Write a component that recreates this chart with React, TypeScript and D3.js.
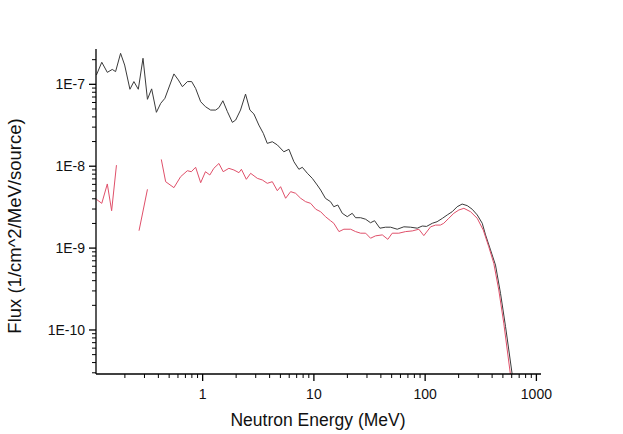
import React from "react";
import * as d3 from "d3";

// Neutron energy (MeV) and flux values for the black series
const blackEnergy = [0.111, 0.124, 0.139, 0.154, 0.165, 0.183, 0.199, 0.222, 0.241, 0.264, 0.291, 0.319, 0.348, 0.384, 0.42, 0.458, 0.552, 0.605, 0.658, 0.729, 0.797, 0.865, 0.96, 1.06, 1.18, 1.31, 1.4, 1.52, 1.67, 1.85, 1.98, 2.19, 2.43, 2.66, 2.89, 3.2, 3.51, 3.81, 4.23, 4.69, 5.37, 5.96, 6.61, 7.33, 7.87, 8.73, 9.68, 10.7, 11.5, 12.7, 14.1, 15.1, 16.4, 18.0, 19.95, 22.1, 23.7, 26.3, 29.2, 32.3, 35.1, 39.2, 44.1, 48.9, 56.1, 64.4, 73.9, 84.9, 94.2, 103, 116, 128, 143, 158, 175, 194, 215, 239, 265, 294, 326, 349, 387, 429, 476, 528, 565, 607, 630];
const blackFlux = [1.3e-7, 1.86e-7, 1.4e-7, 1.52e-7, 1.43e-7, 2.39e-7, 1.72e-7, 8.7e-8, 1.08e-7, 8.7e-8, 2.08e-7, 6.56e-8, 8.8e-8, 4.55e-8, 5.86e-8, 6.75e-8, 1.34e-7, 1.13e-7, 9.35e-8, 1.08e-7, 1.08e-7, 8.9e-8, 6.13e-8, 5.33e-8, 4.85e-8, 4.85e-8, 5.18e-8, 6.3e-8, 4.63e-8, 3.43e-8, 3.66e-8, 4.85e-8, 7.6e-8, 4.85e-8, 4.34e-8, 3.18e-8, 2.52e-8, 1.9e-8, 1.99e-8, 1.82e-8, 1.5e-8, 1.61e-8, 1.135e-8, 9.17e-9, 9.7e-9, 8.2e-9, 7.1e-9, 5.9e-9, 5.12e-9, 4.05e-9, 3.69e-9, 3.2e-9, 3.36e-9, 2.66e-9, 2.42e-9, 2.66e-9, 2.35e-9, 2.35e-9, 2.25e-9, 2.04e-9, 2.16e-9, 1.75e-9, 1.8e-9, 1.8e-9, 1.7e-9, 1.82e-9, 1.8e-9, 1.75e-9, 1.86e-9, 1.84e-9, 2.01e-9, 2.1e-9, 2.31e-9, 2.54e-9, 2.78e-9, 3.2e-9, 3.45e-9, 3.3e-9, 2.98e-9, 2.54e-9, 2.01e-9, 1.45e-9, 9.5e-10, 6.2e-10, 2.8e-10, 1.1e-10, 5.7e-11, 2.82e-11, 1.8e-11];

// Red series, three separate segments (gaps in the data)
const redEnergy1 = [0.111, 0.124, 0.139, 0.152, 0.168];
const redFlux1 = [3.94e-9, 3.52e-9, 6.07e-9, 2.86e-9, 1.03e-8];
const redEnergy2 = [0.268, 0.319];
const redFlux2 = [1.63e-9, 5.22e-9];
const redEnergy3 = [0.425, 0.465, 0.552, 0.634, 0.729, 0.791, 0.865, 0.96, 1.06, 1.16, 1.26, 1.4, 1.53, 1.72, 1.91, 2.12, 2.23, 2.47, 2.7, 3.1, 3.44, 3.81, 4.23, 4.69, 5.02, 5.57, 6.18, 6.85, 7.6, 8.42, 9.34, 10.4, 11.5, 12.7, 14.1, 15.1, 16.8, 18.6, 21.4, 23.7, 26.3, 29.2, 32.3, 35.8, 41.2, 46.2, 50.6, 58.0, 66.7, 76.6, 87.8, 97.3, 112, 124, 137, 147, 163, 181, 201, 223, 256, 294, 333, 373, 414, 459, 509, 547, 585, 605];
const redFlux3 = [1.21e-8, 6.47e-9, 5.47e-9, 7.45e-9, 8.81e-9, 8.57e-9, 9.7e-9, 6.29e-9, 8.57e-9, 7.81e-9, 9.42e-9, 1.08e-8, 8.57e-9, 9.42e-9, 8.99e-9, 8.34e-9, 9.17e-9, 6.92e-9, 8.19e-9, 7.11e-9, 6.79e-9, 6.18e-9, 6.47e-9, 5.02e-9, 5.62e-9, 4.06e-9, 4.89e-9, 4.67e-9, 4.06e-9, 3.69e-9, 3.52e-9, 2.98e-9, 2.78e-9, 2.42e-9, 2.16e-9, 2.01e-9, 1.59e-9, 1.7e-9, 1.7e-9, 1.59e-9, 1.52e-9, 1.52e-9, 1.32e-9, 1.41e-9, 1.45e-9, 1.28e-9, 1.52e-9, 1.52e-9, 1.59e-9, 1.62e-9, 1.7e-9, 1.42e-9, 1.82e-9, 1.91e-9, 1.91e-9, 2.01e-9, 2.31e-9, 2.66e-9, 2.92e-9, 3.06e-9, 2.78e-9, 2.31e-9, 1.66e-9, 1.04e-9, 6.52e-10, 3.08e-10, 1.21e-10, 5.7e-11, 2.82e-11, 2.0e-11];

const xTickValues = [1, 10, 100, 1000];
const xTickLabels = ["1", "10", "100", "1000"];
const yTickValues = [1e-10, 1e-9, 1e-8, 1e-7];
const yTickLabels = ["1E-10", "1E-9", "1E-8", "1E-7"];

const W = 623;
const H = 434;
const FONT = "'Liberation Sans', Arial, sans-serif";

export default function App() {
  const x = d3.scaleLog().domain([0.11, 1100]).range([96, 541]);
  const y = d3.scaleLog().domain([2.9e-11, 2.7e-7]).range([374, 49]);
  const [x0, x1] = x.range();
  const [y0, y1] = y.range();

  const line = d3
    .line<[number, number]>()
    .x((d) => x(d[0]))
    .y((d) => y(d[1]));

  const zip = (a: number[], b: number[]) => a.map((v, i) => [v, b[i]] as [number, number]);

  // minor ticks
  const xMinor: number[] = [];
  for (let p = -1; p <= 3; p++) {
    for (let m = 2; m <= 9; m++) {
      const v = m * Math.pow(10, p);
      if (v >= 0.11 && v <= 1100) xMinor.push(v);
    }
  }
  const yMinor: number[] = [];
  for (let p = -11; p <= -7; p++) {
    for (let m = 2; m <= 9; m++) {
      const v = m * Math.pow(10, p);
      if (v >= 2.9e-11 && v <= 2.7e-7) yMinor.push(v);
    }
  }

  return (
    <svg
      width={W}
      height={H}
      style={{ position: "absolute", left: 0, top: 0, background: "#fff" }}
      fontFamily={FONT}
    >
      <defs>
        <clipPath id="plotclip">
          <rect x={x0} y={y1} width={x1 - x0} height={y0 - y1} />
        </clipPath>
      </defs>
      <rect x={0} y={0} width={W} height={H} fill="#fff" />
      <g clipPath="url(#plotclip)" fill="none" strokeLinejoin="round">
        <path d={line(zip(blackEnergy, blackFlux)) || ""} stroke="#3a3a3a" strokeWidth={1} />
        <path d={line(zip(redEnergy1, redFlux1)) || ""} stroke="#e0506a" strokeWidth={1} />
        <path d={line(zip(redEnergy2, redFlux2)) || ""} stroke="#e0506a" strokeWidth={1} />
        <path d={line(zip(redEnergy3, redFlux3)) || ""} stroke="#e0506a" strokeWidth={1} />
      </g>
      {/* axes */}
      <g stroke="#000" strokeWidth={1.3}>
        <line x1={x0} y1={y0} x2={x1} y2={y0} />
        <line x1={x0} y1={y0} x2={x0} y2={y1} />
        {xTickValues.map((v) => (
          <line key={"xM" + v} x1={x(v)} x2={x(v)} y1={y0} y2={y0 + 7} />
        ))}
        {xMinor.map((v) => (
          <line key={"xm" + v} x1={x(v)} x2={x(v)} y1={y0} y2={y0 + 4} strokeWidth={1} />
        ))}
        {yTickValues.map((v) => (
          <line key={"yM" + v} x1={x0 - 7} x2={x0} y1={y(v)} y2={y(v)} />
        ))}
        {yMinor.map((v) => (
          <line key={"ym" + v} x1={x0 - 4} x2={x0} y1={y(v)} y2={y(v)} strokeWidth={1} />
        ))}
      </g>
      <g fontSize={14} fill="#111">
        {xTickValues.map((v, i) => (
          <text key={"xl" + v} x={x(v)} y={y0 + 25} textAnchor="middle">
            {xTickLabels[i]}
          </text>
        ))}
        {yTickValues.map((v, i) => (
          <text key={"yl" + v} x={x0 - 11} y={y(v) + 5} textAnchor="end">
            {yTickLabels[i]}
          </text>
        ))}
      </g>
      <text x={318} y={426} textAnchor="middle" fontSize={17.5} fill="#111">
        Neutron Energy (MeV)
      </text>
      <text
        transform={`translate(21, 226) rotate(-90)`}
        textAnchor="middle"
        fontSize={18.5}
        fill="#111"
      >
        Flux (1/cm^2/MeV/source)
      </text>
    </svg>
  );
}
